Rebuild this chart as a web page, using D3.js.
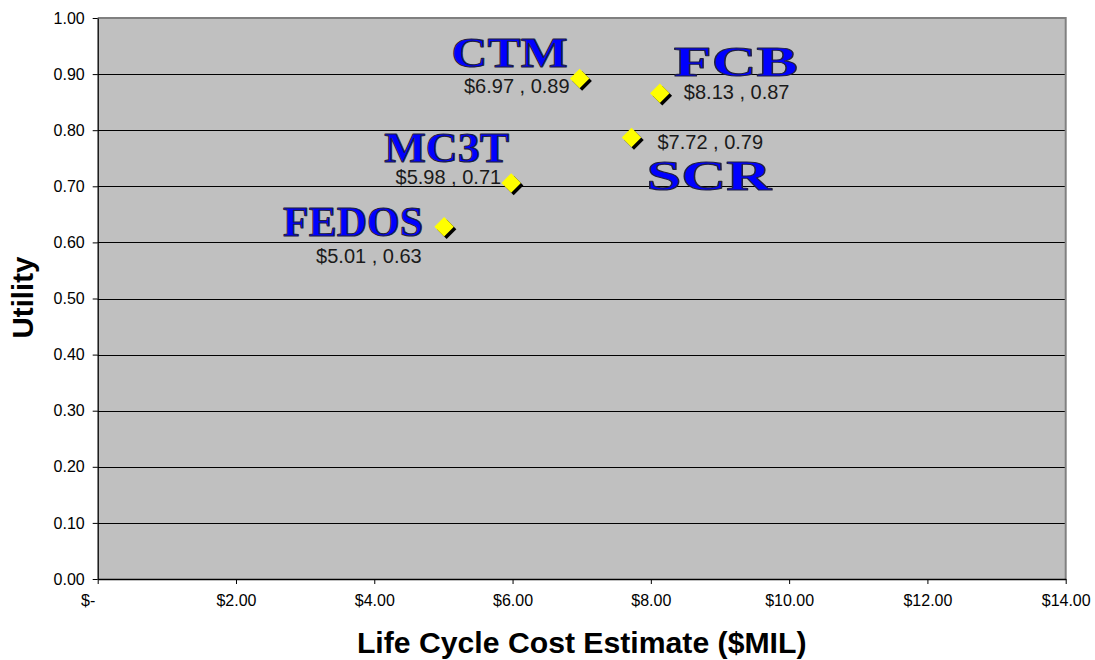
<!DOCTYPE html>
<html>
<head>
<meta charset="utf-8">
<script src="https://cdn.jsdelivr.net/npm/d3@7"></script>
<style>
  html, body { margin: 0; padding: 0; background: #fff; }
  svg { display: block; }
</style>
</head>
<body>
<svg id="chart" width="1095" height="660"></svg>
<script>
// ---- data ----
const names   = ["CTM", "FCB", "SCR", "MC3T", "FEDOS"];
const cost    = [6.97, 8.13, 7.72, 5.98, 5.01];        // $MIL
const utility = [0.892, 0.866, 0.787, 0.706, 0.628];

const xTickValues = [0, 2, 4, 6, 8, 10, 12, 14];
const xTickLabels = ["$-", "$2.00", "$4.00", "$6.00", "$8.00", "$10.00", "$12.00", "$14.00"];
const yTickValues = [0, 0.1, 0.2, 0.3, 0.4, 0.5, 0.6, 0.7, 0.8, 0.9, 1.0];
const yTickLabels = ["0.00", "0.10", "0.20", "0.30", "0.40", "0.50", "0.60", "0.70", "0.80", "0.90", "1.00"];

// ---- layout (pixel offsets of annotations relative to each point) ----
const nameLayout = [ // dx (left edge), dy (baseline), width
  { dx: -128, dy: -12, w: 116 },
  { dx: 14,   dy: -17, w: 124 },
  { dx: 15,   dy: 53,  w: 125 },
  { dx: -127, dy: -21, w: 125 },
  { dx: -161, dy: 9,   w: 140 }
];
const valueLayout = [ // dx, dy, anchor
  { dx: -10, dy: 14, a: "end" },
  { dx: 24,  dy: 6,  a: "start" },
  { dx: 26,  dy: 12, a: "start" },
  { dx: -10, dy: 1,  a: "end" },
  { dx: -128, dy: 36, a: "start" }
];

const svg = d3.select("#chart");
const plot = { left: 97.7, right: 1065.7, top: 18, bottom: 579 };

const x = d3.scaleLinear().domain([0, 14]).range([plot.left, plot.right]);
const y = d3.scaleLinear().domain([0, 1]).range([plot.bottom, plot.top]);

const sans = "'Liberation Sans', Arial, sans-serif";

// plot background
svg.append("rect")
  .attr("x", plot.left).attr("y", plot.top)
  .attr("width", plot.right - plot.left).attr("height", plot.bottom - plot.top)
  .attr("fill", "#C0C0C0");

// gridlines
svg.append("g").selectAll("line")
  .data(yTickValues.filter(v => v > 0 && v < 1))
  .join("line")
  .attr("x1", plot.left).attr("x2", plot.right)
  .attr("y1", d => Math.round(y(d)) + 0.5).attr("y2", d => Math.round(y(d)) + 0.5)
  .attr("stroke", "#000").attr("stroke-width", 1);

// top and right border (gray)
svg.append("path")
  .attr("d", `M${plot.left},${plot.top}H${plot.right}V${plot.bottom}`)
  .attr("fill", "none").attr("stroke", "#808080").attr("stroke-width", 2);

// y axis
const yAxis = d3.axisLeft(y)
  .tickValues(yTickValues)
  .tickFormat((d, i) => yTickLabels[i])
  .tickSize(5).tickSizeOuter(0).tickPadding(8);
const gy = svg.append("g").attr("transform", `translate(${plot.left},0)`).call(yAxis);
gy.select(".domain").attr("stroke", "#000").attr("stroke-width", 1.3);
gy.selectAll(".tick line").attr("stroke", "#000");
gy.selectAll(".tick text").attr("font-family", sans).attr("font-size", 16).attr("fill", "#000");

// x axis
const xAxis = d3.axisBottom(x)
  .tickValues(xTickValues)
  .tickFormat((d, i) => xTickLabels[i])
  .tickSize(5).tickSizeOuter(0).tickPadding(11);
const gx = svg.append("g").attr("transform", `translate(0,${plot.bottom})`).call(xAxis);
gx.select(".domain").attr("stroke", "#000").attr("stroke-width", 1.3);
gx.selectAll(".tick line").attr("stroke", "#000");
gx.selectAll(".tick text").attr("font-family", sans).attr("font-size", 16).attr("fill", "#000")
  .attr("dx", (d, i) => i === 0 ? -10 : 0);

// axis titles
svg.append("text")
  .attr("x", (plot.left + plot.right) / 2).attr("y", 652.5)
  .attr("text-anchor", "middle")
  .attr("font-family", sans).attr("font-weight", "bold").attr("font-size", 30.2)
  .text("Life Cycle Cost Estimate ($MIL)");

svg.append("text")
  .attr("transform", `translate(33,${(plot.top + plot.bottom) / 2 - 1}) rotate(-90)`)
  .attr("text-anchor", "middle")
  .attr("font-family", sans).attr("font-weight", "bold").attr("font-size", 29.5)
  .text("Utility");

// points
const pts = names.map((n, i) => ({ name: n, c: cost[i], u: utility[i], i }));
const diamond = d3.symbol().type(d3.symbolSquare).size(190);

const gp = svg.append("g");
gp.selectAll("path.shadow")
  .data(pts).join("path").attr("class", "shadow")
  .attr("d", diamond)
  .attr("transform", d => `translate(${x(d.c) + 2.5},${y(d.u) + 2.5}) rotate(45)`)
  .attr("fill", "#000");
gp.selectAll("path.mark")
  .data(pts).join("path").attr("class", "mark")
  .attr("d", diamond)
  .attr("transform", d => `translate(${x(d.c)},${y(d.u)}) rotate(45)`)
  .attr("fill", "#FFFF00");

// value labels
svg.append("g").selectAll("text")
  .data(pts).join("text")
  .attr("x", d => x(d.c) + valueLayout[d.i].dx)
  .attr("y", d => y(d.u) + valueLayout[d.i].dy)
  .attr("text-anchor", d => valueLayout[d.i].a)
  .attr("font-family", sans).attr("font-size", 20).attr("fill", "#1a1a1a")
  .text(d => `$${d.c.toFixed(2)} , ${d.u.toFixed(2)}`);

// name labels
svg.append("g").selectAll("text")
  .data(pts).join("text")
  .attr("x", d => x(d.c) + nameLayout[d.i].dx)
  .attr("y", d => y(d.u) + nameLayout[d.i].dy)
  .attr("textLength", d => nameLayout[d.i].w)
  .attr("lengthAdjust", "spacingAndGlyphs")
  .attr("font-family", "'Liberation Serif', 'Times New Roman', serif")
  .attr("font-weight", "bold").attr("font-size", 43)
  .attr("fill", "#0000FF").attr("stroke", "#202040").attr("stroke-width", 1.1)
  .attr("stroke-linejoin", "round")
  .text(d => d.name);
</script>
</body>
</html>
